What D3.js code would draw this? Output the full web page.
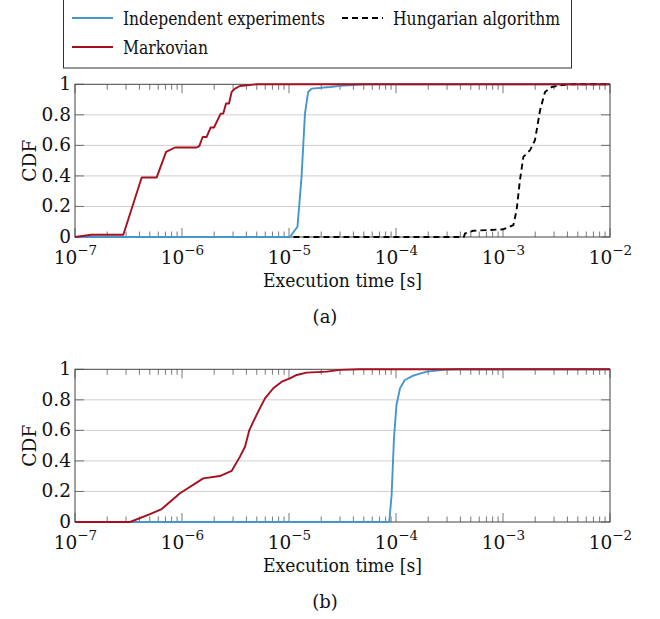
<!DOCTYPE html>
<html><head><meta charset="utf-8">
<script src="https://cdn.jsdelivr.net/npm/d3@7"></script>
<style>
body{margin:0;background:#fff;}
svg{display:block;}
</style></head>
<body>
<svg id="chart" width="660" height="619"></svg>
<script>
// ---------- data ----------
const decadeExponents = [-7, -6, -5, -4, -3, -2];
const yTickValues = [0, 0.2, 0.4, 0.6, 0.8, 1];
const yTickLabels = ["0", "0.2", "0.4", "0.6", "0.8", "1"];
const seriesNames = ["Independent experiments", "Hungarian algorithm", "Markovian"];

// (a)
const aIndepT = [1e-7, 1.02e-5, 1.2e-5, 1.31e-5, 1.41e-5, 1.51e-5, 1.63e-5, 2.42e-5, 3e-5, 5e-5, 1e-2];
const aIndepF = [0, 0, 0.067, 0.394, 0.808, 0.95, 0.972, 0.982, 0.99, 1, 1];
const aHungT = [1.1e-5, 4.3e-4, 4.42e-4, 5.27e-4, 1.0e-3, 1.25e-3, 1.34e-3, 1.44e-3, 1.55e-3, 1.79e-3, 1.99e-3, 2.22e-3, 2.47e-3, 2.85e-3, 3.41e-3, 4e-3, 1e-2];
const aHungF = [0, 0, 0.024, 0.041, 0.05, 0.078, 0.176, 0.373, 0.525, 0.569, 0.634, 0.83, 0.95, 0.982, 0.993, 1, 1];
const aMarkT = [1e-7, 1.43e-7, 2.83e-7, 4.2e-7, 5.8e-7, 7.1e-7, 8.6e-7, 1.37e-6, 1.45e-6, 1.56e-6, 1.70e-6, 1.85e-6, 1.99e-6, 2.30e-6, 2.43e-6, 2.58e-6, 2.75e-6, 2.91e-6, 3.13e-6, 3.48e-6, 5e-6, 1e-2];
const aMarkF = [0, 0.015, 0.015, 0.39, 0.39, 0.557, 0.586, 0.586, 0.595, 0.655, 0.655, 0.717, 0.717, 0.808, 0.808, 0.874, 0.874, 0.95, 0.972, 0.989, 1, 1];

// (b)
const bIndepT = [1e-7, 8.65e-5, 9.1e-5, 9.57e-5, 1.01e-4, 1.09e-4, 1.21e-4, 1.45e-4, 1.94e-4, 2.77e-4, 3.69e-4, 1e-2];
const bIndepF = [0, 0, 0.177, 0.548, 0.766, 0.875, 0.930, 0.958, 0.985, 0.996, 1, 1];
const bMarkT = [1e-7, 3.27e-7, 5.02e-7, 6.46e-7, 9.58e-7, 1.58e-6, 2.26e-6, 2.91e-6, 3.48e-6, 3.88e-6, 4.26e-6, 4.64e-6, 5.25e-6, 5.97e-6, 7.13e-6, 8.55e-6, 1.02e-5, 1.18e-5, 1.46e-5, 2.25e-5, 3.0e-5, 4.6e-5, 1e-2];
const bMarkF = [0, 0, 0.052, 0.085, 0.188, 0.286, 0.301, 0.334, 0.428, 0.493, 0.602, 0.657, 0.734, 0.810, 0.876, 0.919, 0.941, 0.963, 0.978, 0.985, 0.996, 1, 1];

// ---------- styles ----------
const FONT = '"DejaVu Serif", serif';
const BLUE = "#4596cf", RED = "#a50f1e", BLACK = "#000";
const svg = d3.select("#chart");
const X0 = 75, X1 = 610;
const x = d3.scaleLog().domain([1e-7, 1e-2]).range([X0, X1]);
const decades = decadeExponents.map(e => Math.pow(10, e));
const minor = [];
decadeExponents.slice(0, -1).forEach(e => { for (let k = 2; k <= 9; k++) minor.push(k * Math.pow(10, e)); });

function zip(T, F) { return T.map((t, i) => [t, F[i]]); }

function txt(sel, size) {
  return sel.attr("font-family", FONT).style("font-family", FONT).attr("font-size", size).style("font-size", size + "px").attr("fill", "#111");
}
function fit(sel, len) {
  return sel.attr("textLength", len).attr("lengthAdjust", "spacingAndGlyphs");
}

function panel(top, bottom, series, caption, id) {
  const y = d3.scaleLinear().domain([0, 1]).range([bottom, top]);
  const g = svg.append("g");
  g.append("clipPath").attr("id", id).append("rect")
    .attr("x", X0).attr("y", top - 2).attr("width", X1 - X0).attr("height", bottom - top + 4);

  g.selectAll(".grid").data(yTickValues.slice(1, -1)).join("line")
    .attr("x1", X0).attr("x2", X1).attr("y1", d => y(d)).attr("y2", d => y(d))
    .attr("stroke", "#cfcfcf").attr("stroke-width", 1);

  const tickCol = "#555";
  [[bottom, -1], [top, 1]].forEach(([yy, dir]) => {
    g.selectAll(null).data(minor).join("line")
      .attr("x1", d => x(d)).attr("x2", d => x(d))
      .attr("y1", yy).attr("y2", yy + dir * 5.5)
      .attr("stroke", tickCol).attr("stroke-width", 0.8);
    g.selectAll(null).data(decades).join("line")
      .attr("x1", d => x(d)).attr("x2", d => x(d))
      .attr("y1", yy).attr("y2", yy + dir * 9)
      .attr("stroke", tickCol).attr("stroke-width", 0.8);
  });
  [[X0, 1], [X1, -1]].forEach(([xx, dir]) => {
    g.selectAll(null).data(yTickValues).join("line")
      .attr("x1", xx).attr("x2", xx + dir * 9)
      .attr("y1", d => y(d)).attr("y2", d => y(d))
      .attr("stroke", tickCol).attr("stroke-width", 0.8);
  });

  g.append("rect").attr("x", X0).attr("y", top).attr("width", X1 - X0).attr("height", bottom - top)
    .attr("fill", "none").attr("stroke", "#444").attr("stroke-width", 1);

  const line = d3.line().x(d => x(d[0])).y(d => y(d[1]));
  series.forEach(s => {
    g.append("path").datum(zip(s.T, s.F)).attr("d", line)
      .attr("fill", "none").attr("stroke", s.color).attr("stroke-width", 1.9)
      .attr("stroke-dasharray", s.dash || null)
      .attr("stroke-linejoin", "round")
      .attr("clip-path", `url(#${id})`);
  });

  const xAxis = d3.axisBottom(x).tickValues(decades).tickSize(0).tickFormat(() => "");
  const ax = g.append("g").attr("transform", `translate(0,${bottom})`).call(xAxis);
  ax.select(".domain").remove();
  ax.selectAll(".tick text").remove();
  ax.selectAll(".tick").each(function(d) {
    const e = Math.round(Math.log10(d));
    const t = txt(d3.select(this).append("text").attr("y", 27).attr("text-anchor", "middle"), 18.5);
    t.append("tspan").text("10");
    t.append("tspan").attr("dy", -9).attr("font-size", 13.5).style("font-size", "13.5px").text("\u2212" + Math.abs(e));
  });

  const yAxis = d3.axisLeft(y).tickValues(yTickValues).tickSize(0).tickFormat((d, i) => yTickLabels[i]);
  const ay = g.append("g").attr("transform", `translate(${X0 - 4},0)`).call(yAxis);
  ay.select(".domain").remove();
  txt(ay.selectAll(".tick text").attr("x", 0).attr("dy", "0.28em"), 18.5);

  fit(txt(g.append("text").attr("x", 263).attr("y", bottom + 50), 18.5), 159)
    .text("Execution time [s]");
  fit(txt(g.append("text").attr("transform", `translate(30,${(top + bottom) / 2 + 21}) rotate(-90)`)
    .attr("dy", "0.35em"), 18.5), 42).text("CDF");
  txt(g.append("text").attr("x", 325).attr("y", bottom + 86).attr("text-anchor", "middle"), 18).text(caption);
}

panel(84.3, 237, [
  { T: aIndepT, F: aIndepF, color: BLUE },
  { T: aHungT, F: aHungF, color: BLACK, dash: "6,4" },
  { T: aMarkT, F: aMarkF, color: RED }
], "(a)", "clipA");

panel(369.3, 522, [
  { T: bIndepT, F: bIndepF, color: BLUE },
  { T: bMarkT, F: bMarkF, color: RED }
], "(b)", "clipB");

const lg = svg.append("g");
lg.append("rect").attr("x", 63.5).attr("y", -2).attr("width", 508).attr("height", 70)
  .attr("fill", "#fff").attr("stroke", "#333").attr("stroke-width", 1);
const legendItems = [
  { name: seriesNames[0], color: BLUE, dash: null, lx: 72, ly: 18, tl: 202 },
  { name: seriesNames[1], color: BLACK, dash: "6,4", lx: 342, ly: 18, tl: 167 },
  { name: seriesNames[2], color: RED, dash: null, lx: 72, ly: 47, tl: 85 }
];
legendItems.forEach(it => {
  lg.append("line").attr("x1", it.lx).attr("x2", it.lx + 41).attr("y1", it.ly).attr("y2", it.ly)
    .attr("stroke", it.color).attr("stroke-width", 1.9).attr("stroke-dasharray", it.dash);
  fit(txt(lg.append("text").attr("x", it.lx + 51).attr("y", it.ly + 6.5), 18.5), it.tl).text(it.name);
});
</script>
</body></html>
